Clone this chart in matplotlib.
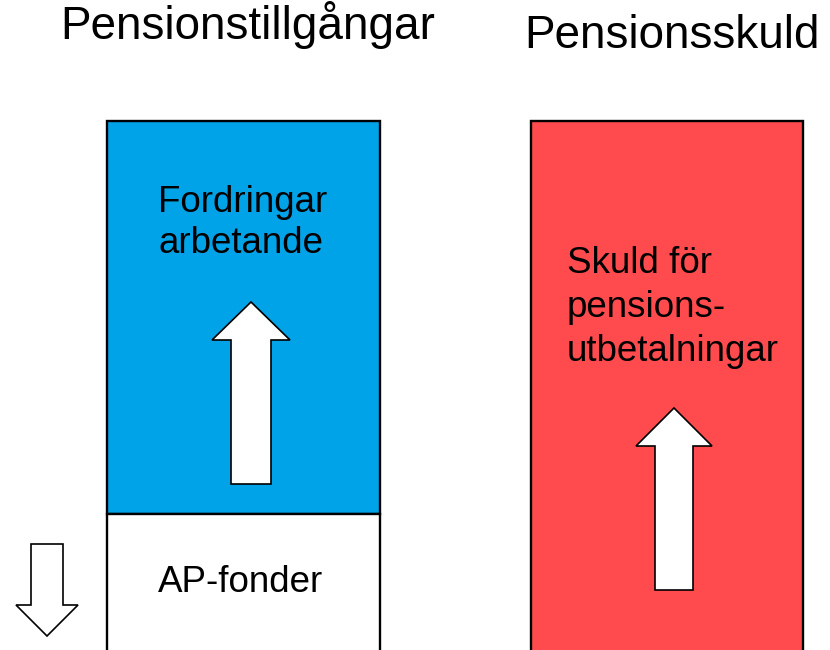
import matplotlib
matplotlib.use("Agg")
import matplotlib.pyplot as plt
from matplotlib.patches import Rectangle, Polygon

plt.rcParams['font.family'] = ['Liberation Sans', 'DejaVu Sans']

W, H = 830, 650

# column headings: (text, centre x, baseline y)
titles = ["Pensionstillgångar", "Pensionsskuld"]
title_x = [248, 672]
title_y = [39, 48]

# boxes: (left, top, right, bottom, colour)
box_left = [107, 107, 531]
box_top = [121, 514, 121]
box_right = [380, 380, 803]
box_bottom = [514, 660, 660]
box_colors = ["#00a3e8", "#ffffff", "#ff4b4d"]

# box labels: lines, left x, first baseline, line step
labels = [["Fordringar", "arbetande"], ["AP-fonder"],
          ["Skuld för", "pensions-", "utbetalningar"]]
label_x = [158, 158, 567]
label_y = [212, 592, 273]
label_step = [41, 0, 44]

# block arrows: centre x, tip y, head base y, tail y, head half width, shaft half width
arrow_cx = [251, 674, 47]
arrow_tip = [302, 408, 636]
arrow_head = [340, 446, 605]
arrow_tail = [484, 590, 544]
arrow_headw = [39, 38, 31]
arrow_shaftw = [20, 19, 16]


def block_arrow(cx, tip, head, tail, hw, sw):
    return [(cx, tip), (cx + hw, head), (cx + sw, head), (cx + sw, tail),
            (cx - sw, tail), (cx - sw, head), (cx - hw, head)]


fig = plt.figure(figsize=(W / 100, H / 100), dpi=100)
ax = fig.add_axes([0, 0, 1, 1])
ax.set_xlim(0, W)
ax.set_ylim(H, 0)
ax.axis("off")

for t, x, y in zip(titles, title_x, title_y):
    ax.text(x, y, t, ha="center", va="baseline", fontsize=33)

for l, t, r, b, c in zip(box_left, box_top, box_right, box_bottom, box_colors):
    ax.add_patch(Rectangle((l, t), r - l, b - t, facecolor=c,
                           edgecolor="black", lw=1.7))

for lines, x, y, step in zip(labels, label_x, label_y, label_step):
    for i, s in enumerate(lines):
        ax.text(x, y + i * step, s, ha="left", va="baseline", fontsize=26.5)

for i in range(len(arrow_cx)):
    pts = block_arrow(arrow_cx[i], arrow_tip[i], arrow_head[i], arrow_tail[i],
                      arrow_headw[i], arrow_shaftw[i])
    ax.add_patch(Polygon(pts, closed=True, facecolor="white",
                         edgecolor="black", lw=1.2, joinstyle="miter"))

fig.savefig("out.png", dpi=100)
